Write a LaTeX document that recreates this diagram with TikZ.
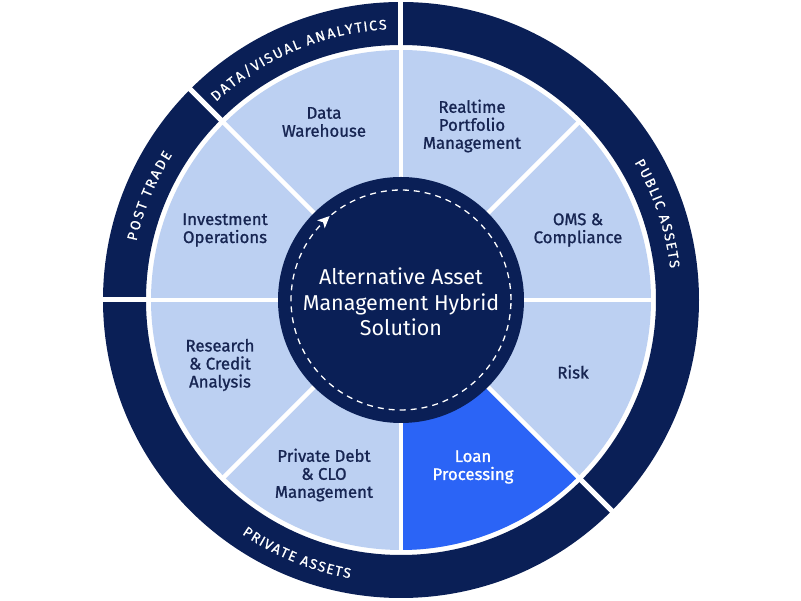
\documentclass[tikz,border=0pt]{standalone}
\usepackage{fontspec}
\setmainfont{Fira Sans}
\newfontfamily\labfont[FakeBold=1.1]{Fira Sans}
\newfontfamily\ringfont[FakeBold=0.6]{Fira Sans}
\usetikzlibrary{decorations.text,arrows.meta}
\definecolor{navy}{HTML}{0A1F56}
\definecolor{lightb}{HTML}{BCD0F2}
\definecolor{brightb}{HTML}{2B64F6}
\definecolor{labtext}{HTML}{172552}
\tikzset{
  lab/.style={font=\labfont\fontsize{16.8}{18}\selectfont, text=labtext, align=center, inner sep=0pt},
  sep/.style={white, line width=4.5},
  ringtext/.style={decorate, decoration={text effects along path, text={#1},
     text effects/.cd, text along path, fit text to path,
     characters={text=white, inner sep=0pt, font=\ringfont\fontsize{14}{14}\selectfont}}}
}
\begin{document}
\begin{tikzpicture}[x=1pt,y=1pt]
\useasboundingbox (-401,-301) rectangle (400,300);
% outer ring
\fill[navy, even odd rule] (0,0) circle (298) (0,0) circle (255);
% sectors
\foreach \a in {0,45,...,315}
  \fill[lightb] (0,0) -- (\a:250) arc[start angle=\a, delta angle=45, radius=250] -- cycle;
\fill[brightb] (0,0) -- (-90:250) arc[start angle=-90, end angle=-45, radius=250] -- cycle;
\foreach \a in {0,45,...,315}
  \draw[sep] (0,0) -- (\a:252);
\foreach \a in {90,135,180,315}
  \draw[white, line width=5] (\a:250) -- (\a:301);
% centre
\node[circle, fill=navy, minimum size=246pt, inner sep=0pt] (hub) at (0,0) {};
\draw[white, line width=1.3, dash pattern=on 6 off 5] (hub.center) circle (110);
\begin{scope}[shift={(133.5:110)}, rotate=43.5]
  \fill[white] (6,0) -- (-6,5.5) -- (-3,0) -- (-6,-5.5) -- cycle;
\end{scope}
\node[text=white, align=center, font=\fontsize{21.5}{25.5}\selectfont] (title) at (0,-2)
  {Alternative Asset\\Management Hybrid\\Solution};
% labels
\node[lab] (dw) at (-77,178) {Data\\Warehouse};
\node[lab] (rpm) at (71,174) {Realtime\\Portfolio\\Management};
\node[lab] (oms) at (177,70) {OMS \&\\Compliance};
\node[lab] (risk) at (172,-72) {Risk};
\node[lab, text=white] (loan) at (72,-167) {Loan\\Processing};
\node[lab] (pd) at (-77,-175) {Private Debt\\\& CLO\\Management};
\node[lab] (rca) at (-181,-65) {Research\\\& Credit\\Analysis};
\node[lab] (io) at (-176,70) {Investment\\Operations};
% ring texts
\path[ringtext={DATA/VISUAL ANALYTICS}] (133:271) arc[start angle=133, end angle=93, radius=271];
\path[ringtext={POST TRADE}] (167.5:271) arc[start angle=167.5, end angle=147.6, radius=271];
\path[ringtext={PUBLIC ASSETS}] (30.5:271) arc[start angle=30.5, end angle=6.7, radius=271];
\path[ringtext={PRIVATE ASSETS}] (235.8:283) arc[start angle=235.8, end angle=259.6, radius=283];
\end{tikzpicture}
\end{document}
